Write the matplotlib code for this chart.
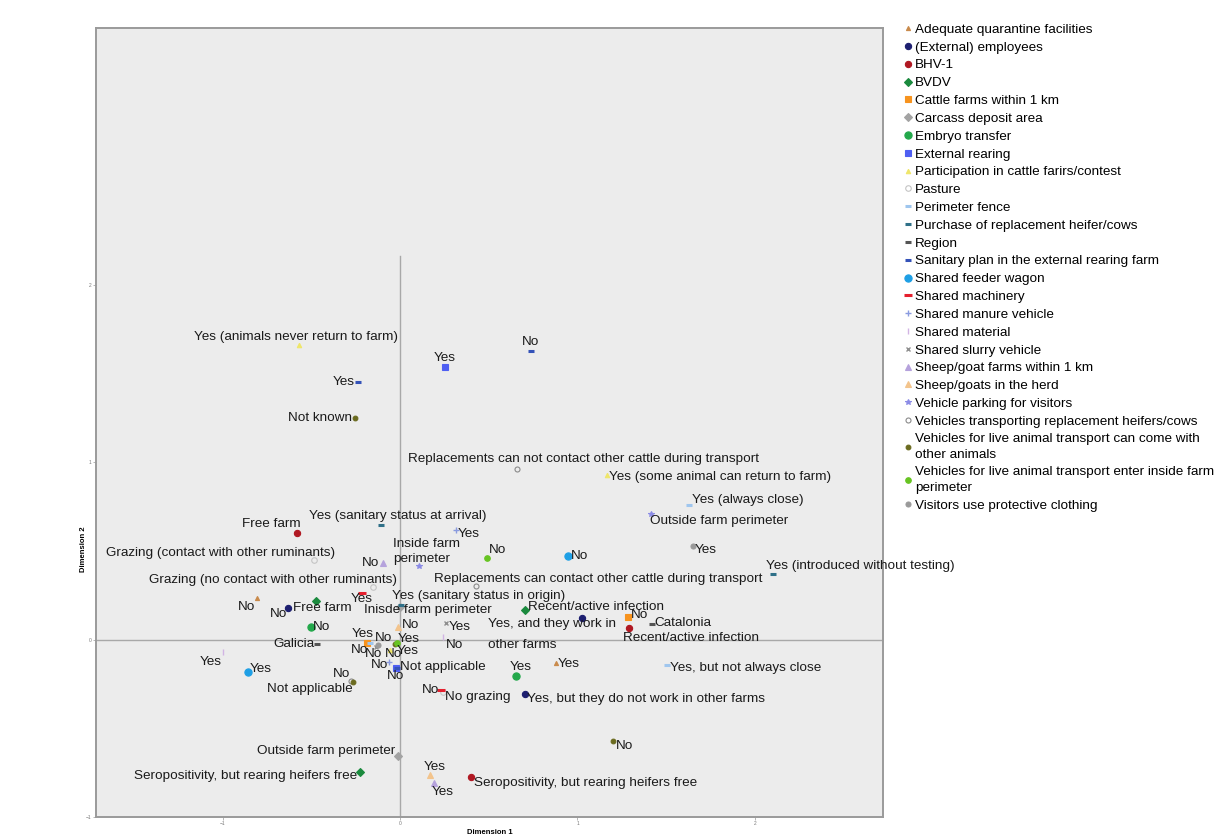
import matplotlib
matplotlib.use("Agg")
import matplotlib.pyplot as plt
from matplotlib.lines import Line2D

plt.rcParams['font.family'] = ['Liberation Sans', 'DejaVu Sans']

# legend categories (variables)
categories = [
    "Adequate quarantine facilities", "(External) employees", "BHV-1", "BVDV",
    "Cattle farms within 1 km", "Carcass deposit area", "Embryo transfer",
    "External rearing", "Participation in cattle farirs/contest", "Pasture",
    "Perimeter fence", "Purchase of replacement heifer/cows", "Region",
    "Sanitary plan in the external rearing farm", "Shared feeder wagon",
    "Shared machinery", "Shared manure vehicle", "Shared material",
    "Shared slurry vehicle", "Sheep/goat farms within 1 km",
    "Sheep/goats in the herd", "Vehicle parking for visitors",
    "Vehicles transporting replacement heifers/cows",
    "Vehicles for live animal transport can come with\nother animals",
    "Vehicles for live animal transport enter inside farm\nperimeter",
    "Visitors use protective clothing",
]

# category points: index into categories, label, dimension 1, dimension 2
pt_cat = [0, 0, 1, 1, 1, 2, 2, 2, 3, 3, 3, 4, 4, 5, 5, 6, 6, 7, 7, 8, 8, 8,
          9, 9, 9, 10, 10, 10, 11, 11, 11, 12, 12, 13, 13, 13, 14, 14, 15, 15,
          16, 16, 17, 17, 18, 18, 25, 25, 19, 19, 20, 20, 21, 21, 22, 22, 22,
          23, 23, 23, 23, 24, 24]
pt_label = [
    "No", "Yes",
    "No", "Yes, and they work in\nother farms", "Yes, but they do not work in other farms",
    "Free farm", "Recent/active infection", "Seropositivity, but rearing heifers free",
    "Free farm", "Recent/active infection", "Seropositivity, but rearing heifers free",
    "No", "Yes",
    "Inisde farm perimeter", "Outside farm perimeter",
    "No", "Yes",
    "Yes", "No",
    "Yes (animals never return to farm)", "Yes (some animal can return to farm)", "No",
    "Grazing (contact with other ruminants)", "Grazing (no contact with other ruminants)", "No grazing",
    "Yes (always close)", "Yes, but not always close", "No",
    "Yes (introduced without testing)", "Yes (sanitary status at arrival)", "Yes (sanitary status in origin)",
    "Galicia", "Catalonia",
    "Yes", "No", "Not applicable",
    "No", "Yes",
    "Yes", "No",
    "Yes", "No",
    "Yes", "No",
    "Yes", "No",
    "Yes", "No",
    "No", "Yes",
    "Yes", "No",
    "Outside farm perimeter", "Inside farm\nperimeter",
    "Replacements can not contact other cattle during transport",
    "Replacements can contact other cattle during transport", "No",
    "Not known", "No", "Yes", "Not applicable",
    "No", "Yes",
]
pt_x = [-0.806, 0.879,
        -0.631, 1.025, 0.704,
        -0.580, 1.290, 0.400,
        -0.473, 0.704, -0.225,
        1.285, -0.186,
        0.000, -0.011,
        -0.501, 0.654,
        0.254, -0.023,
        -0.569, 1.166, -0.056,
        -0.485, -0.152, 0.242,
        1.628, 1.504, -0.169,
        2.101, -0.107, 0.006,
        -0.468, 1.420,
        -0.237, 0.738, -0.017,
        0.946, -0.856,
        -0.214, 0.231,
        0.315, -0.062,
        -0.997, 0.242,
        0.259, -0.135,
        1.651, -0.124,
        -0.096, 0.192,
        0.169, -0.011,
        1.414, 0.107,
        0.659, 0.428, -0.276,
        -0.254, 1.200, -0.028, -0.265,
        0.490, -0.017]
pt_y = [0.237, -0.130,
        0.180, 0.124, -0.304,
        0.603, 0.068, -0.772,
        0.220, 0.169, -0.749,
        0.130, -0.017,
        0.186, -0.659,
        0.073, -0.203,
        1.538, -0.163,
        1.662, 0.930, -0.056,
        0.451, 0.299, -0.293,
        0.761, -0.141, -0.017,
        0.372, 0.648, 0.197,
        -0.023, 0.090,
        1.454, 1.628, -0.163,
        0.473, -0.180,
        0.265, -0.282,
        0.620, -0.124,
        -0.068, 0.017,
        0.096, -0.039,
        0.530, -0.028,
        0.434, -0.806,
        -0.761, 0.073,
        0.710, 0.417,
        0.963, 0.304, -0.231,
        1.251, -0.569, -0.023, -0.237,
        0.462, -0.017]

# label placement relative to marker (pixels, up positive) and alignment
lbl_dx = [-2, 2, -1, -94, 2, 4, -6, 3, -23, 3, -3, 3, -4, -36, -3, 2, 5, 0, 0,
          -3, 2, -5, 21, 24, 2, 3, 3, -2, -7, 17, -9, -2, 2, -3, 0, 3, 3, 2,
          0, -2, 2, -1, -1, 3, 3, -2, 2, -3, -4, -2, 5, 4, -1, -26, 67, -42,
          -1, -3, 3, 2, 0, 2, 1]
lbl_dy = [-9, -1, -6, -17, -5, 9, -10, -6, -7, 3, -4, 2, 9, -3, 5, 0, 9, 9, -8,
          8, -2, -4, 7, 7, -5, 5, -3, -7, 8, 9, 9, 0, 1, 0, 9, 1, 0, 3, -6, 0,
          -4, -3, -10, -8, -4, -7, -4, 7, 0, -9, 8, 2, -7, 14, 10, 7, 7, 0, -5,
          -7, -7, 8, 4]
lbl_ha = ['right', 'left', 'right', 'left', 'left', 'right', 'left', 'left',
          'left', 'left', 'right', 'left', 'center', 'left', 'right', 'left',
          'center', 'center', 'center', 'center', 'left', 'left', 'right',
          'right', 'left', 'left', 'left', 'right', 'left', 'center', 'left',
          'right', 'left', 'right', 'center', 'left', 'left', 'left', 'center',
          'right', 'left', 'right', 'right', 'left', 'left', 'center', 'left',
          'left', 'right', 'left', 'center', 'left', 'left', 'left', 'center',
          'left', 'right', 'right', 'left', 'left', 'right', 'left', 'left']
# labels whose two lines sit further apart
wide_lines = {"Yes, and they work in\nother farms": 2.0}

# marker style per category: marker, colour, size (pt), filled
styles = [
    ('^', '#c98a4b', 3.0, True), ('o', '#1d1f70', 4.5, True),
    ('o', '#b01822', 4.5, True), ('D', '#1b8a3e', 3.8, True),
    ('s', '#f7931e', 4.2, True), ('D', '#a3a3a3', 3.6, True),
    ('o', '#23a84b', 5.2, True), ('s', '#4f5ff2', 4.2, True),
    ('^', '#efe66a', 3.2, True), ('o', '#c4c4c4', 4.0, False),
    ('_', '#9fc6ee', 5.0, True), ('_', '#2f7088', 4.0, True),
    ('_', '#555555', 4.0, True), ('_', '#3452b8', 5.0, True),
    ('o', '#1e9fe5', 5.2, True), ('_', '#e5202e', 5.5, True),
    ('+', '#8a9be0', 4.0, True), ('|', '#d2b4e4', 4.0, True),
    ('x', '#8f8f8f', 3.0, True), ('^', '#b5a2dc', 3.8, True),
    ('^', '#f3c48c', 3.8, True), ('*', '#8b8be6', 4.0, True),
    ('o', '#8a8a8a', 3.6, False), ('o', '#6b6b1f', 3.4, True),
    ('o', '#67c422', 4.0, True), ('o', '#9a9a9a', 3.6, True),
]


def line_kw(st):
    m, c, s, filled = st
    kw = dict(marker=m, color=c, markersize=s, linestyle='none',
              markeredgecolor=c, markerfacecolor=c if filled else 'none')
    if m in ('_', '|', '+', 'x'):
        kw['markeredgewidth'] = 2.2 if m == '_' else 1.0
    else:
        kw['markeredgewidth'] = 0.8
    return kw


fig = plt.figure(figsize=(12.27, 8.35), dpi=100)
ax = fig.add_axes([0.0782, 0.0216, 0.6414, 0.9449])
ax.set_facecolor('#ececec')

ax.set_xlim(-1.713, 2.721)
ax.set_ylim(-0.997, 3.448)

ax.axhline(0, color='#a8a8a8', lw=1.0, zorder=1)
ax.plot([0, 0], [-0.997, 2.16], color='#a8a8a8', lw=1.0, zorder=1)

for ci, st in enumerate(styles):
    xs = [x for x, c in zip(pt_x, pt_cat) if c == ci]
    ys = [y for y, c in zip(pt_y, pt_cat) if c == ci]
    ax.plot(xs, ys, zorder=3, **line_kw(st))

for x, y, lab, dx, dy, ha in zip(pt_x, pt_y, pt_label, lbl_dx, lbl_dy, lbl_ha):
    ax.annotate(lab, (x, y), xytext=(dx * 0.72, dy * 0.72),
                textcoords='offset points', ha=ha, va='center',
                fontsize=9.7, color='#1a1a1a', zorder=4,
                multialignment='left' if ha != 'center' else 'center',
                linespacing=wide_lines.get(lab, 1.3))

for s in ax.spines.values():
    s.set_color('#9a9a9a')
    s.set_linewidth(1.4)

ax.set_xticks([-1, 0, 1, 2])
ax.set_yticks([-1, 0, 1, 2])
ax.tick_params(labelsize=3.5, labelcolor='#777777', length=2, width=0.5,
               color='#999999', pad=1)
ax.set_xlabel('Dimension 1', fontsize=5.5, fontweight='bold', labelpad=2)
ax.set_ylabel('Dimension 2', fontsize=5.5, fontweight='bold')
ax.yaxis.set_label_coords(-0.012, 0.34)

handles = [Line2D([], [], **line_kw(st)) for st in styles]
leg = fig.legend(handles, categories, loc='upper left',
                 bbox_to_anchor=(0.738, 0.972), frameon=False, fontsize=9.7,
                 handlelength=0.4, handletextpad=0.3, labelspacing=0.40,
                 borderaxespad=0, borderpad=0)
for t in leg.get_texts():
    t.set_linespacing(1.4)

plt.savefig('out.png', dpi=100, facecolor='white')
